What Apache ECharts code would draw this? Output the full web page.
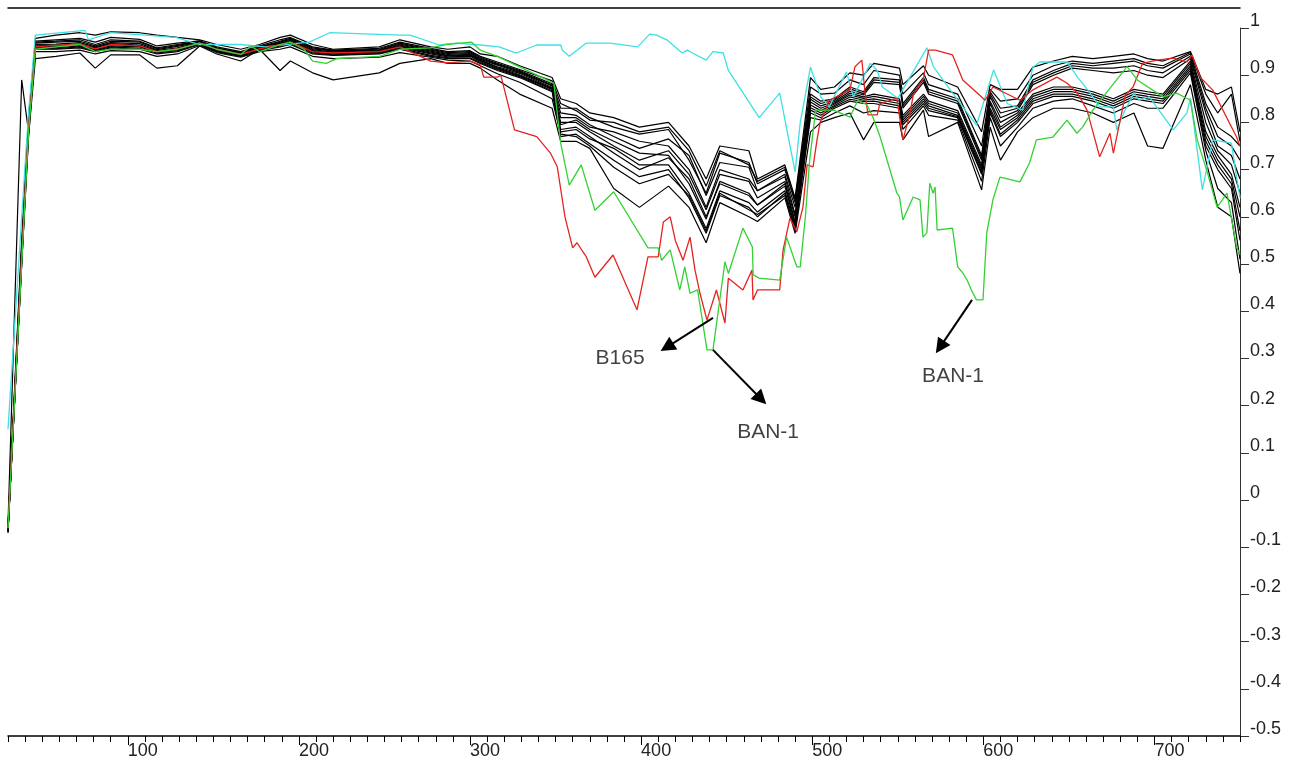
<!DOCTYPE html>
<html><head><meta charset="utf-8">
<script src="https://cdn.jsdelivr.net/npm/echarts@6.0.0/dist/echarts.min.js"></script>
<style>html,body{margin:0;padding:0;background:#fff}#c{width:1292px;height:765px}</style>
</head><body><div id="c"></div><script>
// ---- shared x knots for the black spectra ----
const xs = [30,38,42,46,58,72,81,90,107,117,129,142,152,166,177,189,195,208,220,247,259,277,287,300,306,316,329,348,353,362,370,384,399,416,428,438,446,463,468,484,490,499,505,513,522,530,536,551,553,565,568,585,599,604,610,620,629,641,652,664,676,688,696,705,721,730,737,745,750];

const black1 = [-0.05,0.89,0.78,0.978,0.985,0.99,0.985,0.992,0.99,0.985, 0.98,0.975,0.965,0.955,0.965,0.98,0.985,0.965,0.955,0.96, 0.975,0.96,0.955,0.96,0.945,0.94,0.92,0.895,0.85,0.84, 0.82,0.81,0.79,0.8,0.75,0.68,0.75,0.74,0.68,0.71, 0.64,0.895,0.87,0.875,0.905,0.9,0.925,0.915,0.88,0.92, 0.9,0.875,0.78,0.88,0.87,0.87,0.917,0.93,0.94,0.935, 0.94,0.945,0.935,0.93,0.95,0.87,0.86,0.875,0.78];
const black2 = [-0.06,0.52,0.81,0.97,0.972,0.975,0.965,0.975,0.972,0.958, 0.965,0.972,0.958,0.948,0.96,0.972,0.978,0.958,0.952,0.955, 0.968,0.955,0.948,0.95,0.938,0.925,0.91,0.882,0.83,0.83, 0.81,0.79,0.775,0.785,0.72,0.65,0.735,0.715,0.67,0.7, 0.63,0.86,0.845,0.85,0.875,0.865,0.895,0.89,0.84,0.895, 0.87,0.85,0.73,0.865,0.83,0.835,0.89,0.91,0.925,0.92, 0.925,0.93,0.92,0.915,0.945,0.84,0.79,0.77,0.75];
const black3 = [-0.055,0.55,0.8,0.968,0.97,0.972,0.962,0.972,0.97,0.956, 0.963,0.971,0.957,0.947,0.959,0.97,0.976,0.956,0.951,0.953, 0.966,0.953,0.946,0.948,0.936,0.923,0.908,0.879,0.82,0.815, 0.795,0.77,0.745,0.765,0.73,0.645,0.715,0.705,0.655,0.69, 0.62,0.854,0.84,0.847,0.871,0.861,0.89,0.885,0.835,0.89, 0.865,0.845,0.725,0.86,0.82,0.83,0.885,0.905,0.92,0.915, 0.915,0.92,0.91,0.905,0.94,0.83,0.77,0.75,0.72];
const black4 = [-0.065,0.5,0.79,0.965,0.966,0.969,0.96,0.969,0.967,0.954, 0.961,0.97,0.956,0.946,0.958,0.968,0.974,0.954,0.949,0.952, 0.964,0.951,0.944,0.946,0.934,0.921,0.906,0.877,0.81,0.81, 0.79,0.78,0.76,0.75,0.7,0.62,0.7,0.68,0.655,0.685, 0.605,0.849,0.835,0.844,0.866,0.858,0.885,0.88,0.83,0.885, 0.86,0.84,0.72,0.855,0.81,0.825,0.88,0.9,0.915,0.91, 0.905,0.91,0.9,0.895,0.935,0.82,0.75,0.73,0.68];
const black5 = [-0.06,0.53,0.8,0.962,0.963,0.966,0.958,0.967,0.964,0.952, 0.958,0.969,0.955,0.945,0.957,0.967,0.972,0.952,0.948,0.95, 0.962,0.949,0.942,0.944,0.932,0.918,0.904,0.874,0.8,0.8, 0.78,0.75,0.72,0.74,0.69,0.615,0.69,0.675,0.64,0.675, 0.6,0.843,0.83,0.841,0.862,0.854,0.86,0.85,0.815,0.86, 0.845,0.825,0.71,0.845,0.8,0.82,0.86,0.875,0.875,0.865, 0.85,0.87,0.865,0.86,0.93,0.8,0.74,0.71,0.65];
const black6 = [-0.07,0.51,0.78,0.96,0.961,0.964,0.956,0.965,0.962,0.95, 0.956,0.968,0.954,0.944,0.956,0.965,0.97,0.951,0.946,0.949, 0.961,0.947,0.941,0.942,0.931,0.916,0.901,0.872,0.795,0.805, 0.785,0.76,0.735,0.73,0.67,0.595,0.675,0.65,0.625,0.67, 0.59,0.837,0.825,0.839,0.858,0.851,0.855,0.845,0.81,0.855, 0.84,0.82,0.705,0.84,0.79,0.815,0.855,0.87,0.87,0.86, 0.845,0.865,0.86,0.855,0.925,0.78,0.73,0.69,0.62];
const black7 = [-0.058,0.54,0.79,0.958,0.958,0.962,0.954,0.962,0.96,0.949, 0.954,0.967,0.953,0.943,0.955,0.963,0.969,0.949,0.945,0.948, 0.959,0.945,0.939,0.94,0.929,0.914,0.899,0.87,0.785,0.79, 0.77,0.735,0.7,0.725,0.68,0.6,0.67,0.645,0.625,0.665, 0.585,0.831,0.82,0.836,0.854,0.847,0.85,0.84,0.805,0.85, 0.835,0.815,0.7,0.83,0.785,0.81,0.85,0.865,0.865,0.855, 0.84,0.86,0.855,0.85,0.92,0.77,0.72,0.68,0.6];
const black8 = [-0.062,0.5,0.77,0.957,0.956,0.96,0.952,0.96,0.957,0.947, 0.952,0.966,0.951,0.941,0.953,0.962,0.967,0.947,0.943,0.946, 0.957,0.942,0.937,0.937,0.927,0.912,0.897,0.867,0.78,0.785, 0.765,0.745,0.71,0.71,0.65,0.575,0.655,0.63,0.61,0.655, 0.58,0.826,0.815,0.833,0.849,0.844,0.845,0.835,0.8,0.845, 0.83,0.812,0.695,0.825,0.775,0.805,0.845,0.86,0.86,0.85, 0.835,0.855,0.85,0.845,0.915,0.76,0.71,0.67,0.57];
const black9 = [-0.066,0.52,0.78,0.955,0.955,0.958,0.95,0.958,0.955,0.945, 0.95,0.965,0.95,0.94,0.952,0.96,0.965,0.945,0.942,0.945, 0.955,0.94,0.935,0.935,0.925,0.91,0.895,0.865,0.77,0.775, 0.755,0.72,0.685,0.7,0.64,0.565,0.645,0.62,0.6,0.65, 0.57,0.82,0.81,0.83,0.845,0.84,0.84,0.83,0.795,0.84, 0.825,0.81,0.69,0.82,0.77,0.8,0.84,0.855,0.855,0.845, 0.83,0.85,0.845,0.84,0.91,0.75,0.7,0.66,0.55];
const black10 = [-0.06,0.5,0.77,0.935,0.94,0.947,0.915,0.943,0.943,0.915, 0.92,0.962,0.945,0.93,0.955,0.91,0.93,0.905,0.89,0.905, 0.925,0.935,0.925,0.925,0.915,0.89,0.86,0.83,0.76,0.76, 0.745,0.66,0.62,0.665,0.62,0.545,0.63,0.6,0.59,0.64, 0.565,0.78,0.8,0.81,0.82,0.763,0.8,0.8,0.763,0.826, 0.77,0.8,0.657,0.79,0.72,0.78,0.81,0.83,0.83,0.82, 0.8,0.82,0.75,0.745,0.88,0.72,0.62,0.6,0.48];
const black11 = [-0.064,0.53,0.8,0.972,0.975,0.978,0.97,0.98,0.976,0.962, 0.968,0.973,0.96,0.95,0.962,0.975,0.98,0.96,0.953,0.957, 0.97,0.957,0.95,0.952,0.94,0.928,0.912,0.888,0.84,0.825, 0.805,0.8,0.78,0.79,0.74,0.665,0.74,0.71,0.675,0.705, 0.635,0.875,0.86,0.862,0.89,0.88,0.91,0.9,0.86,0.905, 0.88,0.86,0.75,0.87,0.845,0.85,0.9,0.92,0.93,0.925, 0.93,0.935,0.925,0.92,0.948,0.86,0.82,0.86,0.76];
const black12 = [-0.068,0.51,0.785,0.95,0.95,0.953,0.945,0.952,0.95,0.94, 0.945,0.963,0.948,0.938,0.95,0.955,0.96,0.94,0.935,0.938, 0.948,0.938,0.932,0.93,0.92,0.903,0.885,0.85,0.775,0.77, 0.75,0.705,0.67,0.69,0.645,0.57,0.65,0.615,0.605,0.645, 0.575,0.81,0.805,0.82,0.835,0.82,0.825,0.82,0.785,0.835, 0.815,0.805,0.675,0.81,0.75,0.79,0.83,0.845,0.85,0.835, 0.82,0.84,0.83,0.83,0.905,0.74,0.66,0.63,0.51];

// ---- cyan spectrum ----
const cyanX = [30,38,42,46,75,77,90,128,142,166,180,206,218,259,265,282,292,306,317,327,339,353,354,358,368,382,398,405,409,415,424,427,430,438,442,448,451,469,481,490,493,499,505,510,520,524,534,538,541,550,567,571,582,596,606,614,623,629,633,649,655,661,668,676,678,682,688,691,697,711,719,721,728,734,745,748,750];
const cyanY = [0.15,0.6,0.82,0.985,0.995,0.975,0.99,0.98,0.965,0.965,0.96,0.97,0.99,0.985,0.985,0.964,0.968,0.964,0.96,0.947,0.964,0.964,0.953,0.94,0.968,0.968,0.96,0.987,0.985,0.975,0.947,0.953,0.947,0.932,0.95,0.947,0.91,0.81,0.862,0.695,0.8,0.917,0.854,0.833,0.907,0.854,0.925,0.91,0.875,0.851,0.958,0.917,0.862,0.794,0.911,0.84,0.826,0.917,0.928,0.928,0.896,0.869,0.833,0.833,0.784,0.82,0.862,0.847,0.854,0.784,0.82,0.852,0.657,0.763,0.756,0.684,0.64];

// ---- red spectrum (B165) ----
const redX = [30,38,42,46,58,72,81,90,107,117,129,142,152,166,177,189,195,208,220,247,259,277,287,300,306,308,316,318,326,339,347,351,355.5,360,362.5,368,373,383.6,397.6,404,410,413,417,420,424.5,428.6,431.5,434.4,438.5,444,449,451,459.5,464.8,465.4,468,481,483,487,491,494.6,497,500.5,502.8,504.6,510,522,525,529,531,532.6,538,539.5,549.5,553,557,559,565,568,572,582,588,599,601,605.6,621.4,629,643,649,655,660.6,668,674,676,683,687.5,693,701.5,710.8,719,722,726.7,734,748,750];
const redY = [-0.06,0.52,0.79,0.96,0.963,0.966,0.956,0.965,0.962,0.95,0.956,0.968,0.955,0.944,0.956,0.965,0.97,0.95,0.947,0.95,0.96,0.93,0.926,0.93,0.922,0.896,0.896,0.9,0.784,0.77,0.735,0.706,0.6,0.534,0.545,0.515,0.472,0.519,0.403,0.515,0.515,0.589,0.6,0.55,0.508,0.557,0.487,0.438,0.381,0.445,0.375,0.47,0.445,0.487,0.424,0.445,0.445,0.53,0.597,0.568,0.621,0.71,0.706,0.763,0.8,0.847,0.869,0.918,0.932,0.858,0.816,0.816,0.84,0.851,0.763,0.816,0.858,0.893,0.953,0.953,0.943,0.89,0.854,0.847,0.875,0.847,0.869,0.896,0.883,0.862,0.826,0.727,0.777,0.735,0.858,0.875,0.925,0.932,0.936,0.928,0.943,0.896,0.869,0.769,0.75];

// ---- green spectrum (BAN-1) ----
const greenX = [30,38,42,46,58,72,81,90,107,117,129,142,152,166,172,177,189,195,203,208,216,222,247,259,277,286,301,306,316,345,349,353,358,365,373,384,404,410,412,417,422.6,425.5,428.6,433,438.5,442,449,451,459.5,465,465.5,469,481,485,491,493,496,498.5,502,512.6,522,526.7,532,535.5,539.6,549.5,551,553,559,563,564.7,567,568.7,570.6,571.8,573,582,585,588,590.5,593,596,599.8,602,605.6,609.7,621.4,627,631,640.7,648.9,654.7,658,664,670,684,690,705,713,721,725,731,736.6,742.4,748,750];
const greenY = [-0.06,0.5,0.78,0.955,0.96,0.965,0.95,0.955,0.955,0.95,0.955,0.968,0.955,0.944,0.962,0.95,0.965,0.97,0.955,0.93,0.925,0.935,0.94,0.955,0.958,0.965,0.97,0.953,0.94,0.89,0.883,0.756,0.667,0.71,0.614,0.653,0.534,0.534,0.508,0.53,0.445,0.494,0.438,0.445,0.318,0.318,0.505,0.48,0.576,0.536,0.477,0.47,0.466,0.557,0.494,0.494,0.6,0.72,0.826,0.826,0.811,0.847,0.837,0.811,0.77,0.65,0.642,0.593,0.642,0.636,0.557,0.566,0.671,0.65,0.663,0.572,0.576,0.494,0.481,0.466,0.445,0.424,0.424,0.566,0.636,0.684,0.674,0.714,0.763,0.769,0.805,0.777,0.79,0.826,0.854,0.918,0.89,0.854,0.862,0.847,0.763,0.693,0.62,0.65,0.536,0.52];

// ---- axes ----
const xLabelValues = [100,200,300,400,500,600,700];

// ---- annotations (data coordinates) ----
const annotationLabels = [
  {text:'B165', x:387.7, y:0.301},
  {text:'BAN-1', x:474.2, y:0.144},
  {text:'BAN-1', x:582.3, y:0.263}
];
const annotationArrows = [
  [[442.0,0.386],[415.1,0.324]],
  [[442.0,0.318],[470.1,0.214]],
  [[593.4,0.424],[574.7,0.324]]
];

const FONT = '"Liberation Sans", Arial, Helvetica, sans-serif';
const pair = (X, Y) => X.map((x, i) => [x, Y[i]]);

const blackLines = [black1,black2,black3,black4,black5,black6,black7,black8,black9,black10,black11,black12];
const series = [];
blackLines.forEach((ys, i) => {
  series.push({type:'line', name:'s'+(i+1), data:pair(xs, ys), xAxisIndex:0, yAxisIndex:0,
    symbol:'none', showSymbol:false, silent:true, animation:false,
    lineStyle:{color:'#000', width:1.2}});
});
[[cyanX,cyanY,'#3fe0e4'],[redX,redY,'#e5231f'],[greenX,greenY,'#34d134']].forEach(([X,Y,c]) => {
  series.push({type:'line', data:pair(X, Y), xAxisIndex:0, yAxisIndex:0,
    symbol:'none', showSymbol:false, silent:true, animation:false,
    lineStyle:{color:c, width:1.3}});
});
series.push({
  type:'scatter', xAxisIndex:0, yAxisIndex:0, silent:true, animation:false,
  symbolSize:0, itemStyle:{color:'transparent'},
  data: annotationLabels.map(a => ({name:a.text, value:[a.x, a.y]})),
  label:{show:true, position:'inside', formatter:'{b}', fontSize:21, color:'#111', fontFamily:FONT}
});
series.push({
  type:'line', xAxisIndex:0, yAxisIndex:0, silent:true, animation:false, data:[],
  itemStyle:{color:'#000'}, lineStyle:{color:'#000'},
  markLine:{
    silent:true, animation:false,
    symbol:['none','triangle'], symbolSize:15,
    itemStyle:{color:'#000'},
    lineStyle:{color:'#000', width:2, type:'solid'},
    label:{show:false},
    data: annotationArrows.map(a => [{coord:a[0]}, {coord:a[1]}])
  }
});

const chart = echarts.init(document.getElementById('c'), null, {renderer:'canvas'});
chart.setOption({
  animation:false,
  backgroundColor:'#fff',
  grid:[
    {left:8, right:52, top:28, bottom:29, containLabel:false, outerBoundsMode:'none'},
    {left:8, right:52, top:28, bottom:29, containLabel:false, outerBoundsMode:'none'}
  ],
  xAxis:[
    {type:'value', gridIndex:0, min:30, max:750, interval:10, position:'bottom',
      axisLine:{show:true, onZero:false, lineStyle:{color:'#000', width:1.5}},
      axisTick:{show:true, length:6, lineStyle:{color:'#000', width:1}},
      axisLabel:{show:true, customValues:xLabelValues, align:'left', margin:6, fontSize:18, color:'#222', fontFamily:FONT, formatter:(v)=>String(v)},
      splitLine:{show:false}},
    {type:'value', gridIndex:0, min:30, max:750, position:'top', offset:20,
      axisLine:{show:true, onZero:false, lineStyle:{color:'#000', width:1.5}},
      axisTick:{show:false}, axisLabel:{show:false}, splitLine:{show:false}},
    {type:'value', gridIndex:1, min:30, max:750, position:'bottom',
      axisLine:{show:false, onZero:false},
      axisTick:{show:true, customValues:xLabelValues, length:9, lineStyle:{color:'#000', width:1}},
      axisLabel:{show:false}, splitLine:{show:false}}
  ],
  yAxis:[
    {type:'value', gridIndex:0, min:-0.5, max:1, interval:0.1, position:'right',
      axisLine:{show:true, onZero:false, lineStyle:{color:'#333', width:1}},
      axisTick:{show:true, length:9, lineStyle:{color:'#333', width:1}},
      axisLabel:{margin:10, align:'left', verticalAlign:'bottom', lineHeight:14, fontSize:18, color:'#222', fontFamily:FONT,
        formatter:(v)=>{ const r = Math.round(v*10)/10; return r === 0 ? '0' : String(r); }},
      splitLine:{show:false}},
    {type:'value', gridIndex:1, min:-0.5, max:1, show:false}
  ],
  series
});
</script></body></html>
